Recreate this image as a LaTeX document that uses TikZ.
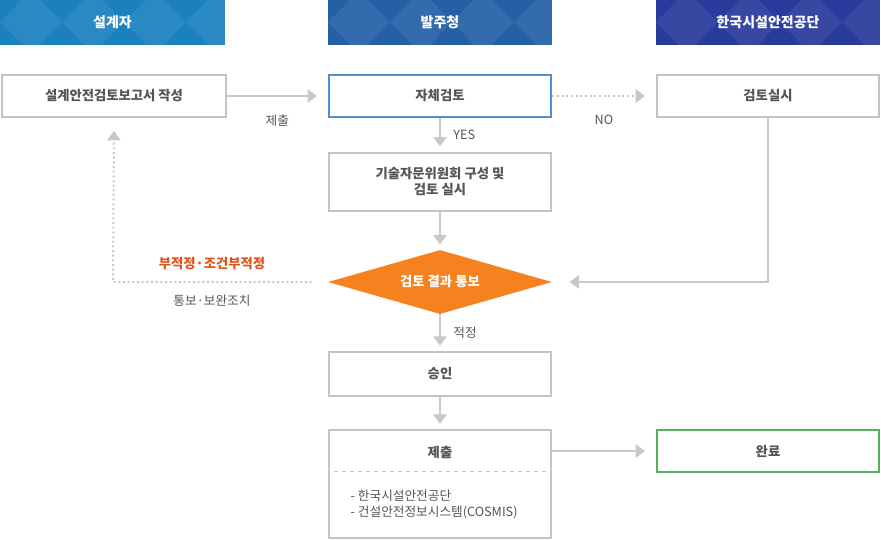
\documentclass[tikz,border=0pt]{standalone}
\usepackage{fontspec}
\setmainfont{Noto Sans CJK KR}
\usetikzlibrary{arrows.meta,shapes.geometric}
\definecolor{hdrA}{HTML}{1A80BE}
\definecolor{hdrB}{HTML}{2560A6}
\definecolor{hdrC}{HTML}{283A9C}
\definecolor{lineg}{HTML}{C8C8C8}
\definecolor{boxg}{HTML}{C4C4C4}
\definecolor{txtg}{HTML}{555555}
\definecolor{orng}{HTML}{F5821F}
\definecolor{redo}{HTML}{E0541C}
\definecolor{blueb}{HTML}{4A90D2}
\definecolor{greenb}{HTML}{5CAF5A}
\tikzset{
  stepbox/.style={draw=boxg, line width=1.5pt, fill=white, text=txtg, font=\fontsize{10}{12}\selectfont\bfseries, align=center},
  flow/.style={draw=lineg, line width=1.5pt, shorten >=4pt, -{Triangle[length=7pt,width=10pt]}},
  note/.style={text=txtg, font=\fontsize{9.5}{12}\selectfont}
}
\newcommand{\hdr}[4]{%
  \fill[#3] (#1,0) rectangle (#2,45);
  \begin{scope}
    \clip (#1,0) rectangle (#2,45);
    \foreach \k in {0,1,2,3} {
      \fill[white, opacity=0.07] ({#1+\k*62},22) -- ({#1+\k*62+31},-10) -- ({#1+\k*62+62},22) -- ({#1+\k*62+31},54) -- cycle;
    }
  \end{scope}
  \node[text=white, font=\fontsize{10.5}{12}\selectfont\bfseries] (h#3) at ({(#1+#2)/2},22) {#4};}
\begin{document}
\begin{tikzpicture}[x=0.75pt, y=-0.75pt]
        \useasboundingbox (0,0) rectangle (881,540);

        \hdr{0}{225}{hdrA}{설계자}
        \hdr{328}{552}{hdrB}{발주청}
        \hdr{656}{880}{hdrC}{한국시설안전공단}

        \node[stepbox, minimum width=168pt, minimum height=31pt] (write) at (114,96) {설계안전검토보고서 작성};
        \node[stepbox, draw=blueb, minimum width=167pt, minimum height=31pt] (self) at (440,96) {자체검토};
        \node[stepbox, minimum width=167pt, minimum height=31pt] (check) at (768,96) {검토실시};
        \node[stepbox, minimum width=167pt, minimum height=44pt] (comm) at (440,182) {기술자문위원회 구성 및\\검토 실시};
        \node[diamond, fill=orng, aspect=3.5, inner sep=0pt, minimum width=168pt, minimum height=48pt, text=white, font=\fontsize{10}{12}\selectfont\bfseries] (result) at (440,282) {검토 결과 통보};
        \node[stepbox, minimum width=167pt, minimum height=33pt] (approve) at (440,374) {승인};
        \node[stepbox, minimum width=167pt, minimum height=81pt] (submit) at (440,484) {};
        \node[stepbox, draw=greenb, minimum width=167pt, minimum height=31pt] (done) at (768,451) {완료};

        \node[text=txtg, font=\fontsize{10}{12}\selectfont\bfseries] (subt) at (440,452) {제출};
        \draw[lineg, dashed, line width=0.6pt] (334,471) -- (547,471);
        \node[note, anchor=west, align=left] (list) at (346,504) {- 한국시설안전공단\\- 건설안전정보시스템(COSMIS)};

        \coordinate (back) at (113,282);
        \coordinate (corner) at (768,282);

        \draw[flow, shorten >=8pt] (write) -- (self) node[midway, below=10pt, note] {제출};
        \draw[flow, dotted, shorten >=8pt] (self) -- (check) node[midway, below=10pt, note] {NO};
        \draw[flow] (self) -- (comm) node[midway, right=6pt, note] {YES};
        \draw[flow] (comm) -- (result);
        \draw[flow] (check) -- (corner) -- ([xshift=9pt]result.east);
        \draw[flow] (result) -- (approve) node[midway, right=6pt, note] {적정};
        \draw[flow] (approve) -- (submit);
        \draw[flow, shorten >=8pt] (submit.east |- done) -- (done);
        \draw[flow, dotted] ([xshift=-12pt]result.west) -- (back) -- ([yshift=-6pt]write.south);

        \node[text=redo, font=\fontsize{10}{12}\selectfont\bfseries] (bad) at (212,264) {부적정·조건부적정};
        \node[note] (notice) at (212,301) {통보·보완조치};

    \end{tikzpicture}
\end{document}
